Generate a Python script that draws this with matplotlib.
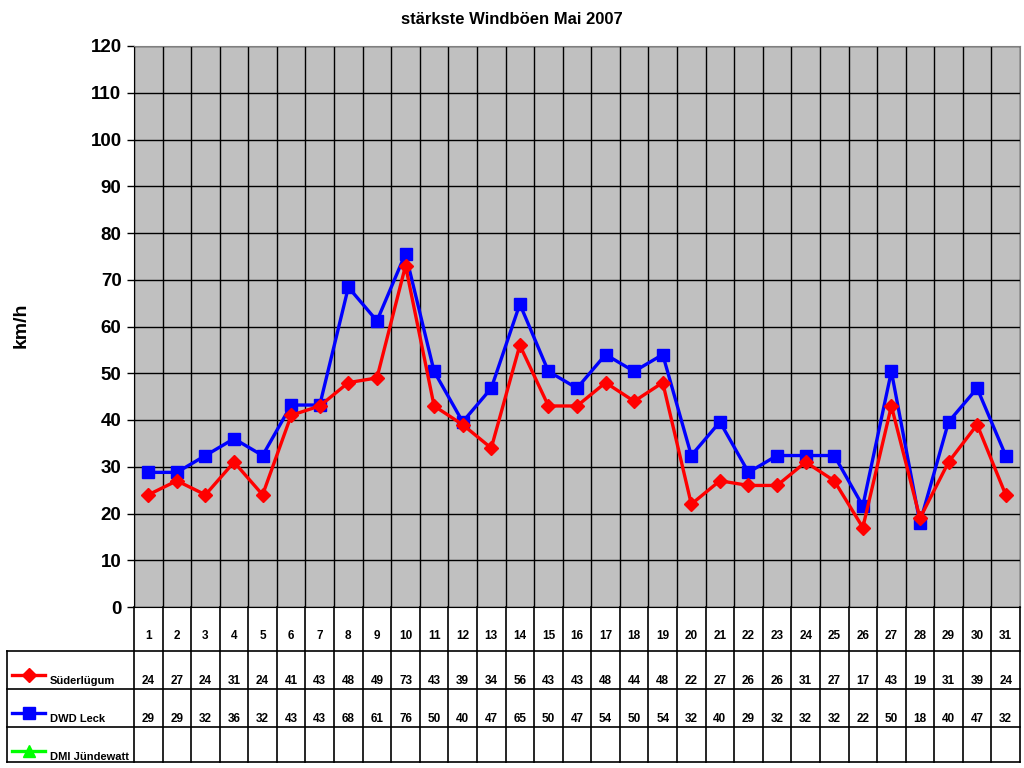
import numpy as np
import matplotlib
matplotlib.use("Agg")
import matplotlib.pyplot as plt

plt.rcParams['font.family'] = ['Liberation Sans', 'DejaVu Sans']
plt.rcParams['font.weight'] = 'bold'

days = list(range(1, 32))
sued = [24, 27, 24, 31, 24, 41, 43, 48, 49, 73, 43, 39, 34, 56, 43, 43,
        48, 44, 48, 22, 27, 26, 26, 31, 27, 17, 43, 19, 31, 39, 24]
leck = [28.8, 28.8, 32.4, 36, 32.4, 43.2, 43.2, 68.4, 61.2, 75.6, 50.4,
        39.6, 46.8, 64.8, 50.4, 46.8, 54, 50.4, 54, 32.4, 39.6, 28.8,
        32.4, 32.4, 32.4, 21.6, 50.4, 18, 39.6, 46.8, 32.4]
dmi = []
names = ['Süderlügum', 'DWD Leck', 'DMI Jündewatt']
colors = ['#FF0000', '#0000FF', '#00FF00']
markers = ['D', 's', '^']
msizes = [7, 9, 8]
title = 'stärkste Windböen Mai 2007'

W, H = 1024, 768
fig = plt.figure(figsize=(10.24, 7.68), dpi=100)
# plot area in pixels
pl, pr, pt, pb = 134, 1020, 46, 607
ax = fig.add_axes([pl / W, (H - pb) / H, (pr - pl) / W, (pb - pt) / H])
ax.set_facecolor('#C0C0C0')
ax.plot(days, sued, color=colors[0], lw=2.4, marker=markers[0], ms=msizes[0], zorder=4)
ax.plot(days, leck, color=colors[1], lw=2.4, marker=markers[1], ms=msizes[1], zorder=3)
ax.set_xlim(0.5, 31.5)
ax.set_ylim(0, 120)
ax.set_yticks(range(0, 121, 10))
ax.set_xticks(np.arange(0.5, 32, 1))
ax.tick_params(axis='x', length=0, labelbottom=False)
ax.tick_params(axis='y', length=5, width=1, direction='out', labelsize=13.5, pad=4)
for lab in ax.get_yticklabels():
    lab.set_fontweight('bold')
ax.grid(True, color='black', lw=1)
ax.set_axisbelow(True)
for s in ['left', 'bottom']:
    ax.spines[s].set_color('black')
for s in ['top', 'right']:
    ax.spines[s].set_color('#808080')
fig.text(21 / W, 1 - 325 / H, 'km/h', rotation=90, ha='center', va='center',
         fontsize=14, fontweight='bold')
fig.text(0.5, 1 - 20 / H, title, ha='center', va='center', fontsize=12, fontweight='bold')

# data table below
tl, tb = 7, 762
tax = fig.add_axes([tl / W, (H - tb) / H, (pr - tl) / W, (tb - pb) / H])
tax.axis('off')
cw = (pr - pl) / 31.0
tax.set_xlim(0.5 - (pl - tl) / cw, 31.5)
tax.set_ylim(tb - pb, 0)
rows = [0, 44, 82, 120, 155]
x0 = 0.5 - (pl - tl) / cw
lk = dict(color='black', lw=1.2, clip_on=False)
for xb in np.arange(0.5, 32, 1):
    tax.plot([xb, xb], [rows[0], rows[-1]], **lk)
tax.plot([x0, x0], [rows[1], rows[-1]], **lk)
for yb in rows[1:]:
    tax.plot([x0, 31.5], [yb, yb], **lk)
for d in days:
    tax.text(d, 29, str(d), ha='center', va='center', fontsize=8.5, fontweight='bold')
series = [sued, leck, dmi]
for i, vals in enumerate(series):
    ytxt = rows[i + 1] + 30
    for d, v in zip(days, vals):
        tax.text(d, ytxt, f'{v:.0f}', ha='center', va='center', fontsize=8.5, fontweight='bold')
    ym = rows[i + 1] + 24
    xs = x0 + 5 / cw
    xe = x0 + 38 / cw
    tax.plot([xs, xe], [ym, ym], color=colors[i], lw=2.4, clip_on=False)
    tax.plot([(xs + xe) / 2], [ym], color=colors[i], marker=markers[i], ms=msizes[i], clip_on=False)
    tax.text(x0 + 43 / cw, ytxt, names[i], ha='left', va='center', fontsize=8, fontweight='bold')

fig.savefig('out.png', dpi=100)
